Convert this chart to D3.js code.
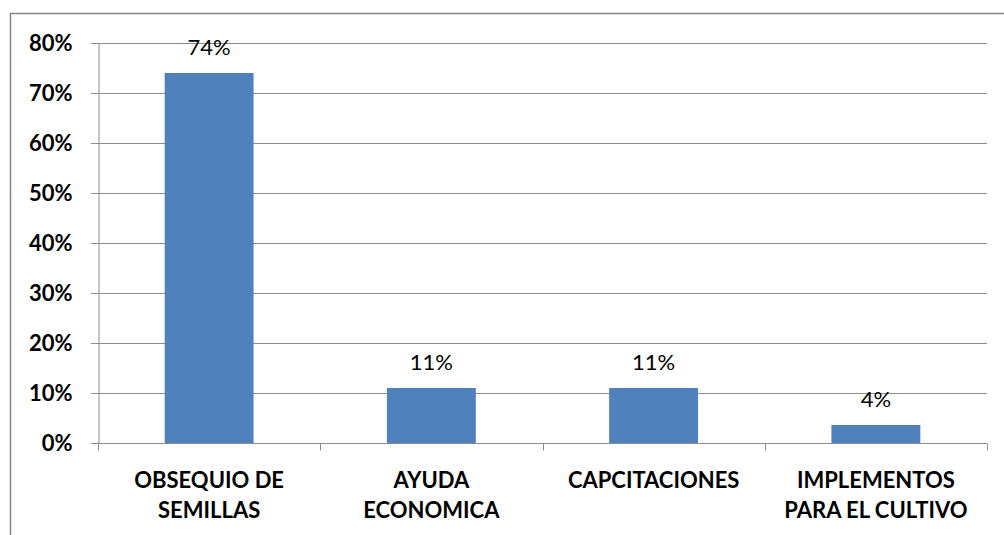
<!DOCTYPE html>
<html><head><meta charset="utf-8">
<script src="https://cdn.jsdelivr.net/npm/d3@7"></script>
<style>body{margin:0;background:#fff}svg{display:block}</style>
</head><body>
<svg id="c" width="1004" height="535"></svg>
<script>
const categories = [["OBSEQUIO DE","SEMILLAS"],["AYUDA","ECONOMICA"],["CAPCITACIONES"],["IMPLEMENTOS","PARA EL CULTIVO"]];
const values = [0.74, 0.11, 0.11, 0.036];
const valueLabels = ["74%","11%","11%","4%"];
const yTicks = [0,0.1,0.2,0.3,0.4,0.5,0.6,0.7,0.8];

const svg = d3.select("#c");
const m = {l:98, r:987, t:43, b:443};
svg.append("rect").attr("x",10.5).attr("y",13.5).attr("width",1010).attr("height",540)
  .attr("fill","none").attr("stroke","#868686").attr("stroke-width",1.5);

const x = d3.scaleBand().domain(d3.range(categories.length)).range([m.l,m.r]).padding(0);
const y = d3.scaleLinear().domain([0,0.8]).range([m.b,m.t]);

// gridlines
svg.append("g").selectAll("line").data(yTicks).join("line")
  .attr("x1",m.l-7).attr("x2",m.r).attr("y1",d=>Math.round(y(d))+0.5).attr("y2",d=>Math.round(y(d))+0.5)
  .attr("stroke","#8c8c8c").attr("stroke-width",1);

// y axis
const ya = svg.append("g").attr("transform",`translate(${m.l+0.5},0)`)
  .call(d3.axisLeft(y).tickValues(yTicks).tickFormat(d3.format(".0%")).tickSize(7).tickPadding(19));
ya.select(".domain").attr("stroke","#8c8c8c");
ya.selectAll(".tick line").attr("stroke","#8c8c8c");
ya.selectAll("text").attr("font-family","Lato, 'Open Sans', sans-serif").attr("font-weight","bold")
  .attr("font-size","22px").attr("fill","#000");

// bars
const bw = x.step()*0.4;
svg.append("g").selectAll("rect").data(values).join("rect")
  .attr("x",(d,i)=>x(i)+x.step()/2-bw/2).attr("width",bw)
  .attr("y",d=>y(d)).attr("height",d=>y(0)-y(d)).attr("fill","#4f81bd");

// x axis
const xa = svg.append("g").attr("transform",`translate(0,${m.b+0.5})`);
xa.append("line").attr("x1",m.l).attr("x2",m.r).attr("stroke","#8c8c8c");
xa.selectAll("line.t").data(d3.range(categories.length+1)).join("line").attr("class","t")
  .attr("x1",i=>Math.round(m.l+i*x.step())+0.5).attr("x2",i=>Math.round(m.l+i*x.step())+0.5)
  .attr("y1",0).attr("y2",7).attr("stroke","#8c8c8c");

// category labels
const cl = svg.append("g").selectAll("text").data(categories).join("text")
  .attr("text-anchor","middle").attr("font-family","Lato, 'Open Sans', sans-serif")
  .attr("font-weight","bold").attr("font-size","22px").attr("fill","#000");
cl.each(function(d,i){
  const t=d3.select(this);
  d.forEach((s,k)=>t.append("tspan").attr("x",x(i)+x.step()/2).attr("y",488+k*30).text(s));
});

// value labels
svg.append("g").selectAll("text").data(values).join("text")
  .attr("x",(d,i)=>x(i)+x.step()/2).attr("y",d=>y(d)-18)
  .attr("text-anchor","middle").attr("font-family","Lato, 'Open Sans', sans-serif")
  .attr("font-size","22px").attr("fill","#000").text((d,i)=>valueLabels[i]);
</script>
</body></html>
